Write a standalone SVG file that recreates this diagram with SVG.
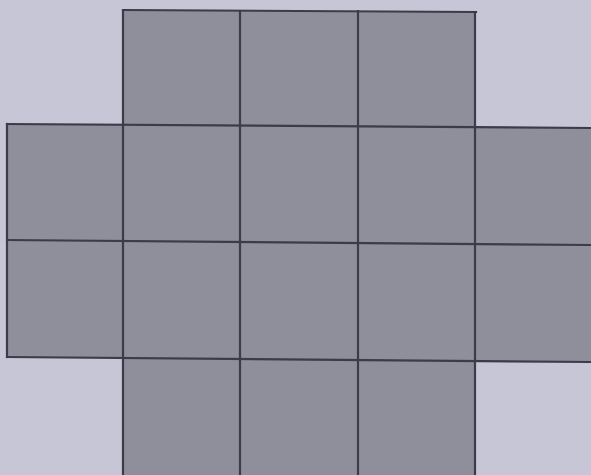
<svg xmlns="http://www.w3.org/2000/svg" width="591" height="475" viewBox="0 0 591 475">
<style>
.tile{fill:#8f8f9b}
.ln{stroke:#3b3b4a;stroke-width:2.2;fill:none;stroke-linecap:square}
</style>
<rect width="591" height="475" fill="#c6c6d6"/>
<g id="shape">
<polygon class="tile" points="123,10 476,12 475,127 591,128 591,362 475,361 475,475 123,475 123,358 7,357 7,124 123,125"/>
</g>
<g id="grid">
<line class="ln" x1="123" y1="10" x2="476" y2="12"/>
<line class="ln" x1="7" y1="124" x2="591" y2="128"/>
<line class="ln" x1="7" y1="240" x2="591" y2="245"/>
<line class="ln" x1="7" y1="357" x2="591" y2="362"/>
<line class="ln" x1="7" y1="124" x2="7" y2="357"/>
<line class="ln" x1="123" y1="10" x2="123" y2="475"/>
<line class="ln" x1="240" y1="11" x2="240" y2="475"/>
<line class="ln" x1="358" y1="11" x2="358" y2="475"/>
<line class="ln" x1="475" y1="12" x2="475" y2="475"/>
</g>
</svg>
